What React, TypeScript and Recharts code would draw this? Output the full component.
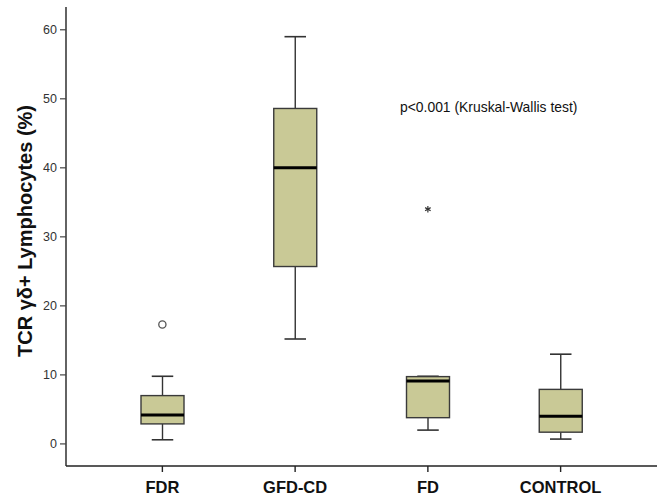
import React from 'react';
import { ComposedChart, Bar, Scatter, XAxis, YAxis, Customized } from 'recharts';

const categories = ['FDR', 'GFD-CD', 'FD', 'CONTROL'];
const whiskerLow = [0.6, 15.2, 2.0, 0.7];
const q1 = [2.9, 25.7, 3.8, 1.7];
const median = [4.2, 40.0, 9.1, 4.0];
const q3 = [7.0, 48.6, 9.75, 7.9];
const whiskerHigh = [9.8, 59.0, 9.8, 13.0];
const outliers: (number | null)[] = [17.3, null, 34.0, null];
const outlierKinds: (string | null)[] = ['circle', null, 'star', null];
const yTicks = [0, 10, 20, 30, 40, 50, 60];
const annotation = 'p<0.001 (Kruskal-Wallis test)';
const yLabel = 'TCR γδ+ Lymphocytes (%)';

const data = categories.map((name, i) => ({
  name,
  range: [whiskerLow[i], whiskerHigh[i]],
  lo: whiskerLow[i],
  q1: q1[i],
  median: median[i],
  q3: q3[i],
  hi: whiskerHigh[i],
  outlier: outliers[i],
  kind: outlierKinds[i],
}));

const FONT = '"Liberation Sans", Arial, Helvetica, sans-serif';
const AXIS = '#222';

const BoxShape = (props: any) => {
  const { x, y, width, height, payload } = props;
  if (x == null || y == null) return <g />;
  const top = Math.min(y, y + height);
  const bottom = Math.max(y, y + height);
  const { lo, hi } = payload;
  const px = (v: number) => top + ((hi - v) / (hi - lo)) * (bottom - top);
  const cx = x + width / 2;
  const capHalf = width / 4;
  const yQ1 = px(payload.q1);
  const yQ3 = px(payload.q3);
  const yMed = px(payload.median);
  const yHi = px(hi);
  const yLo = px(lo);
  return (
    <g>
      <line x1={cx} x2={cx} y1={yHi} y2={yQ3} stroke="#333" strokeWidth={1.4} />
      <line x1={cx} x2={cx} y1={yQ1} y2={yLo} stroke="#333" strokeWidth={1.4} />
      <line x1={cx - capHalf} x2={cx + capHalf} y1={yHi} y2={yHi} stroke="#333" strokeWidth={1.6} />
      <line x1={cx - capHalf} x2={cx + capHalf} y1={yLo} y2={yLo} stroke="#333" strokeWidth={1.6} />
      <rect x={x} y={yQ3} width={width} height={yQ1 - yQ3} fill="#c9c996" stroke="#3a3a3a" strokeWidth={1.4} />
      <line x1={x} x2={x + width} y1={yMed} y2={yMed} stroke="#000" strokeWidth={3} />
    </g>
  );
};

const OutlierShape = (props: any) => {
  const { cx, cy, payload } = props;
  if (!payload || payload.outlier == null || cx == null || cy == null) return <g />;
  if (payload.kind === 'circle') {
    return <circle cx={cx} cy={cy} r={3.6} fill="#fff" stroke="#555" strokeWidth={1.3} />;
  }
  const r = 3.2;
  const lines = [0, 60, 120].map((a) => {
    const rad = (a * Math.PI) / 180;
    return (
      <line
        key={a}
        x1={cx - r * Math.sin(rad)}
        y1={cy - r * Math.cos(rad)}
        x2={cx + r * Math.sin(rad)}
        y2={cy + r * Math.cos(rad)}
        stroke="#333"
        strokeWidth={1.2}
      />
    );
  });
  return <g>{lines}</g>;
};

const Annotation = () => (
  <text x={400} y={112} fontFamily={FONT} fontSize={13.9} fill="#111">
    {annotation}
  </text>
);

export default function App() {
  return (
    <div style={{ position: 'absolute', left: 0, top: 0, width: 659, height: 498, background: '#fff' }}>
      <ComposedChart
        width={659}
        height={498}
        data={data}
        margin={{ top: 7, right: 2, bottom: 0, left: 0 }}
      >
        <XAxis
          dataKey="name"
          interval={0}
          padding={{ left: 30, right: 30 }}
          height={32}
          tickSize={6}
          tickMargin={9}
          axisLine={{ stroke: AXIS, strokeWidth: 1.4 }}
          tickLine={{ stroke: AXIS, strokeWidth: 1.4 }}
          tick={{ fill: '#111', fontSize: 16.5, fontWeight: 'bold', fontFamily: FONT }}
        />
        <XAxis
          xAxisId="top"
          orientation="top"
          dataKey="name"
          height={0}
          tick={false}
          tickLine={false}
          axisLine={{ stroke: AXIS, strokeWidth: 1.4 }}
        />
        <YAxis
          type="number"
          domain={[-3.2, 63.3]}
          ticks={yTicks}
          width={66}
          tickSize={6}
          tickMargin={3}
          axisLine={{ stroke: AXIS, strokeWidth: 1.4 }}
          tickLine={{ stroke: '#444', strokeWidth: 1.2 }}
          tick={{ fill: '#333', fontSize: 12.5, fontFamily: FONT }}
          label={{
            value: yLabel,
            content: () => (
              <text
                x={32}
                y={231}
                transform="rotate(-90 32 231)"
                textAnchor="middle"
                fontFamily={FONT}
                fontSize={20}
                fontWeight="bold"
                fill="#111"
              >
                {yLabel}
              </text>
            ),
          }}
        />
        <YAxis
          yAxisId="right"
          orientation="right"
          type="number"
          domain={[-3.2, 63.3]}
          width={0}
          tick={false}
          tickLine={false}
          axisLine={{ stroke: AXIS, strokeWidth: 1.4 }}
        />
        <Bar dataKey="range" barSize={43} shape={<BoxShape />} isAnimationActive={false} />
        <Scatter dataKey="outlier" shape={<OutlierShape />} isAnimationActive={false} />
        <Customized component={Annotation} />
      </ComposedChart>
    </div>
  );
}
